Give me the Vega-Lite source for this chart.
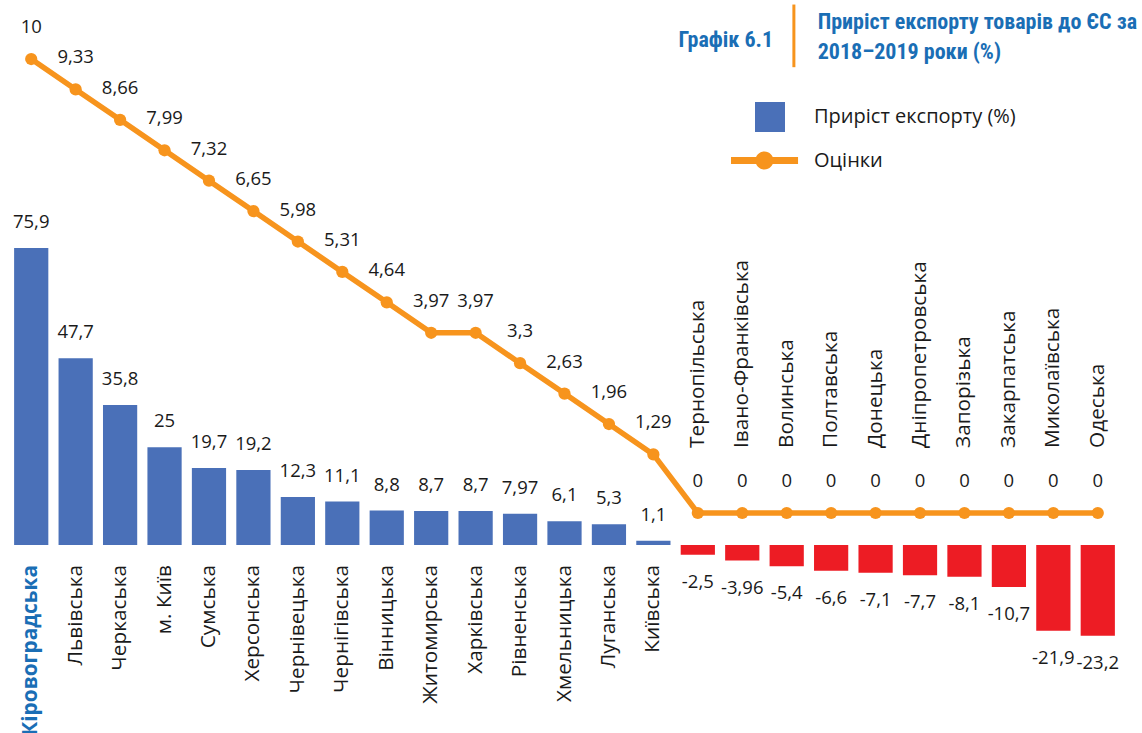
{
  "$schema": "https://vega.github.io/schema/vega-lite/v6.json",
  "width": 1111,
  "height": 733,
  "autosize": {"type": "none"},
  "padding": {"left": 9, "top": 0, "right": 22, "bottom": 0},
  "background": "white",
  "config": {
    "view": {"stroke": null},
    "font": "Open Sans",
    "text": {"font": "Open Sans", "color": "#1a1a1a"},
    "legend": {"title": null, "orient": "none", "symbolSize": 900, "labelFont": "Open Sans", "labelFontSize": 20, "labelColor": "#1a1a1a", "labelLimit": 500, "labelOffset": 29, "padding": 0, "symbolStrokeWidth": 0, "symbolOpacity": 1},
    "locale": {"number": {"decimal": ",", "thousands": " ", "grouping": [3], "currency": ["", ""], "minus": "-"}}
  },
  "data": {"values": [
    {"region": "Кіровоградська", "export": 75.9, "score": 10},
    {"region": "Львівська", "export": 47.7, "score": 9.33},
    {"region": "Черкаська", "export": 35.8, "score": 8.66},
    {"region": "м. Київ", "export": 25, "score": 7.99},
    {"region": "Сумська", "export": 19.7, "score": 7.32},
    {"region": "Херсонська", "export": 19.2, "score": 6.65},
    {"region": "Чернівецька", "export": 12.3, "score": 5.98},
    {"region": "Чернігівська", "export": 11.1, "score": 5.31},
    {"region": "Вінницька", "export": 8.8, "score": 4.64},
    {"region": "Житомирська", "export": 8.7, "score": 3.97},
    {"region": "Харківська", "export": 8.7, "score": 3.97},
    {"region": "Рівненська", "export": 7.97, "score": 3.3},
    {"region": "Хмельницька", "export": 6.1, "score": 2.63},
    {"region": "Луганська", "export": 5.3, "score": 1.96},
    {"region": "Київська", "export": 1.1, "score": 1.29},
    {"region": "Тернопільська", "export": -2.5, "score": 0},
    {"region": "Івано-Франківська", "export": -3.96, "score": 0},
    {"region": "Волинська", "export": -5.4, "score": 0},
    {"region": "Полтавська", "export": -6.6, "score": 0},
    {"region": "Донецька", "export": -7.1, "score": 0},
    {"region": "Дніпропетровська", "export": -7.7, "score": 0},
    {"region": "Запорізька", "export": -8.1, "score": 0},
    {"region": "Закарпатська", "export": -10.7, "score": 0},
    {"region": "Миколаївська", "export": -21.9, "score": 0},
    {"region": "Одеська", "export": -23.2, "score": 0}
  ]},
  "encoding": {
    "x": {"field": "region", "type": "nominal", "axis": null, "sort": null,
      "scale": {"paddingInner": 0.23, "paddingOuter": 0.115, "domain": ["Кіровоградська","Львівська","Черкаська","м. Київ","Сумська","Херсонська","Чернівецька","Чернігівська","Вінницька","Житомирська","Харківська","Рівненська","Хмельницька","Луганська","Київська","Тернопільська","Івано-Франківська","Волинська","Полтавська","Донецька","Дніпропетровська","Запорізька","Закарпатська","Миколаївська","Одеська"]}}
  },
  "layer": [
    {
      "encoding": {
        "y": {"type": "quantitative", "axis": null, "scale": {"domain": [-48.04, 139.28], "nice": false, "zero": false}}
      },
      "layer": [
        {
          "mark": {"type": "bar", "strokeWidth": 0},
          "encoding": {
            "y": {"field": "export", "type": "quantitative", "axis": null, "scale": {"domain": [-48.04, 139.28], "nice": false, "zero": false}},
            "color": {"condition": {"test": "datum.export < 0", "value": "#ed1c24"}, "value": "#4a70b8"},
            "stroke": {"datum": "Приріст експорту (%)", "type": "nominal",
              "scale": {"range": ["#1166b6"]},
              "legend": {"legendX": 746, "legendY": 102, "symbolType": "square", "symbolFillColor": "#1166b6"}
            }
          }
        },
        {
          "transform": [{"filter": "datum.export >= 0"}],
          "mark": {"type": "text", "fontSize": 18.5, "dy": -26, "baseline": "middle"},
          "encoding": {
            "y": {"field": "export", "type": "quantitative", "axis": null, "scale": {"domain": [-48.04, 139.28], "nice": false, "zero": false}},
            "text": {"field": "export", "type": "quantitative", "format": "~g"}
          }
        },
        {
          "transform": [{"filter": "datum.export < 0"}],
          "mark": {"type": "text", "fontSize": 18.5, "dy": 27, "baseline": "middle"},
          "encoding": {
            "y": {"field": "export", "type": "quantitative", "axis": null, "scale": {"domain": [-48.04, 139.28], "nice": false, "zero": false}},
            "text": {"field": "export", "type": "quantitative", "format": "~g"}
          }
        },
        {
          "transform": [{"filter": "datum.export >= 0 && datum.region !== 'Кіровоградська'"}],
          "mark": {"type": "text", "fontSize": 20.8, "angle": 270, "align": "right", "baseline": "middle"},
          "encoding": {
            "y": {"datum": -5.11, "type": "quantitative", "scale": {"domain": [-48.04, 139.28], "nice": false, "zero": false}},
            "text": {"field": "region", "type": "nominal"}
          }
        },
        {
          "transform": [{"filter": "datum.region === 'Кіровоградська'"}],
          "mark": {"type": "text", "fontSize": 20.8, "angle": 270, "align": "right", "baseline": "middle", "fontWeight": "bold", "color": "#1a6eb5"},
          "encoding": {
            "y": {"datum": -5.11, "type": "quantitative", "scale": {"domain": [-48.04, 139.28], "nice": false, "zero": false}},
            "text": {"field": "region", "type": "nominal"}
          }
        },
        {
          "transform": [{"filter": "datum.export < 0"}],
          "mark": {"type": "text", "fontSize": 20.8, "angle": 270, "align": "left", "baseline": "middle"},
          "encoding": {
            "y": {"datum": 24.8, "type": "quantitative", "scale": {"domain": [-48.04, 139.28], "nice": false, "zero": false}},
            "text": {"field": "region", "type": "nominal"}
          }
        }
      ]
    },
    {
      "layer": [
        {
          "mark": {"type": "line", "strokeWidth": 5.5, "color": "#f7941d"},
          "encoding": {
            "y": {"field": "score", "type": "quantitative", "axis": null, "scale": {"domain": [-4.846, 11.3], "nice": false, "zero": false}}
          }
        },
        {
          "mark": {"type": "point", "filled": true, "size": 150, "color": "#f7941d", "opacity": 1},
          "encoding": {
            "y": {"field": "score", "type": "quantitative", "axis": null, "scale": {"domain": [-4.846, 11.3], "nice": false, "zero": false}},
            "strokeDash": {"datum": "Оцінки", "type": "nominal",
              "scale": {"range": [[1, 0]]},
              "legend": {"legendX": 746, "legendY": 145.5,
                "symbolType": "M-2.6,-0.23H-0.9V0.23H-2.6Z M0.16,-0.23H1.87V0.23H0.16Z M-0.97,0A0.6,0.6 0 1,1 0.23,0A0.6,0.6 0 1,1 -0.97,0Z",
                "symbolFillColor": "#f7941d"}
            }
          }
        },
        {
          "mark": {"type": "text", "fontSize": 18.5, "dy": -32, "baseline": "middle"},
          "encoding": {
            "y": {"field": "score", "type": "quantitative", "axis": null, "scale": {"domain": [-4.846, 11.3], "nice": false, "zero": false}},
            "text": {"field": "score", "type": "quantitative", "format": "~g"}
          }
        },
        {
          "data": {"values": [{"t": "Графік 6.1"}]},
          "mark": {"type": "text", "font": "Roboto Condensed, Liberation Sans Narrow, DejaVu Sans Condensed, Roboto", "fontWeight": "bold", "fontSize": 22, "color": "#1a6eb5", "align": "center", "baseline": "middle", "dx": 28},
          "encoding": {
            "x": {"datum": "Тернопільська", "type": "nominal"},
            "y": {"datum": 10.418, "type": "quantitative", "scale": {"domain": [-4.846, 11.3], "nice": false, "zero": false}},
            "text": {"field": "t", "type": "nominal"}
          }
        },
        {
          "data": {"values": [{"t": "rule"}]},
          "mark": {"type": "rule", "strokeWidth": 3, "color": "#f7941d"},
          "encoding": {
            "x": {"datum": "Волинська", "type": "nominal", "bandPosition": 0.71},
            "y": {"datum": 11.2, "type": "quantitative", "scale": {"domain": [-4.846, 11.3], "nice": false, "zero": false}},
            "y2": {"datum": 9.82}
          }
        },
        {
          "data": {"values": [{"t": "title"}]},
          "mark": {"type": "text", "font": "Roboto Condensed, Liberation Sans Narrow, DejaVu Sans Condensed, Roboto", "fontWeight": "bold", "fontSize": 22, "color": "#1a6eb5", "align": "left", "baseline": "middle", "dx": 31, "lineHeight": 30,
            "text": ["Приріст експорту товарів до ЄС за", "2018–2019 роки (%)"]},
          "encoding": {
            "x": {"datum": "Волинська", "type": "nominal"},
            "y": {"datum": 10.815, "type": "quantitative", "scale": {"domain": [-4.846, 11.3], "nice": false, "zero": false}}
          }
        }
      ]
    }
  ],
  "resolve": {"scale": {"y": "independent"}}
}
